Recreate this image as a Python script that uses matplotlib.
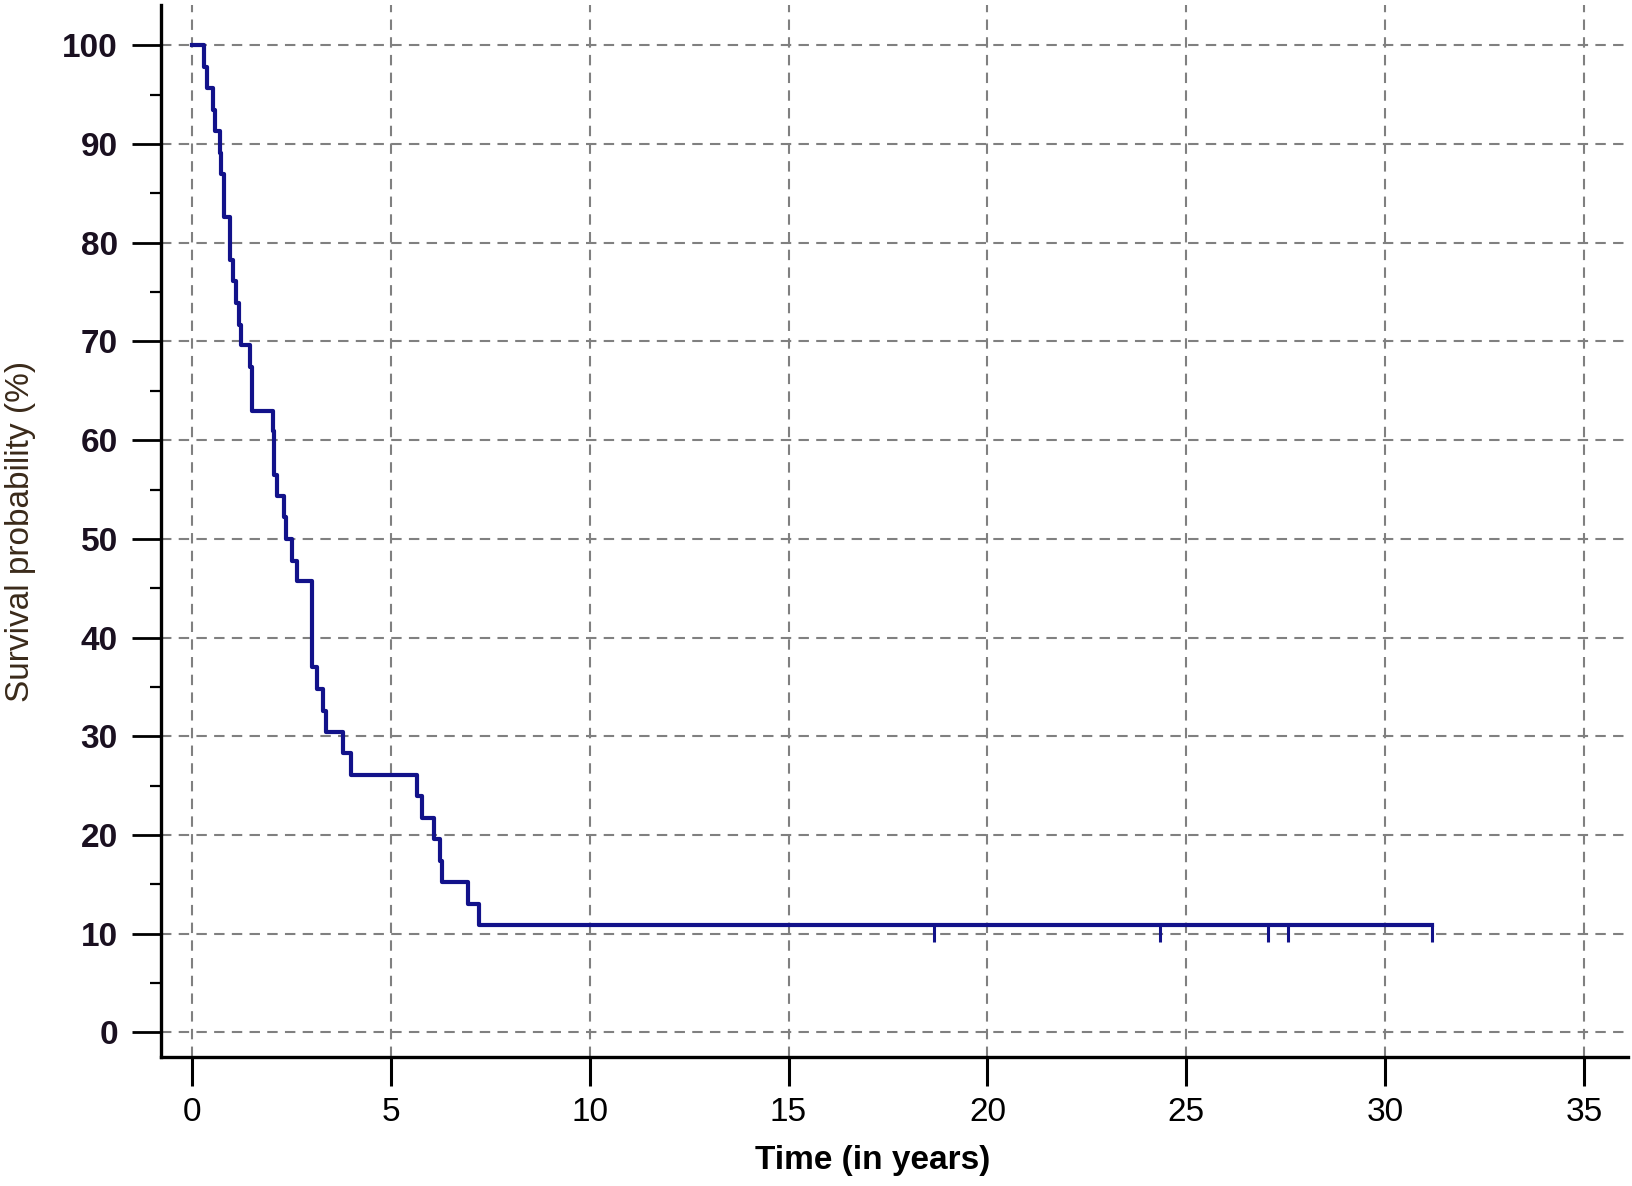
import matplotlib
matplotlib.use("Agg")
import matplotlib.pyplot as plt
from matplotlib.ticker import MultipleLocator

# Kaplan-Meier curve
drop_times = [0.31, 0.38, 0.53, 0.59, 0.70, 0.75, 0.82, 0.96, 1.05, 1.11,
              1.20, 1.25, 1.47, 1.52, 2.04, 2.08, 2.14, 2.31, 2.36, 2.52,
              2.64, 3.02, 3.14, 3.29, 3.38, 3.81, 4.01, 5.66, 5.78, 6.10,
              6.23, 6.28, 6.95, 7.23]
surv_after = [97.8, 95.7, 93.5, 91.3, 89.1, 87.0, 82.6, 78.3, 76.1, 73.9,
              71.7, 69.6, 67.4, 63.0, 60.9, 56.5, 54.3, 52.2, 50.0, 47.8,
              45.7, 37.0, 34.8, 32.6, 30.4, 28.3, 26.1, 23.9, 21.7, 19.6,
              17.4, 15.2, 13.0, 10.9]
censor_times = [18.65, 24.33, 27.05, 27.55, 31.18]
x_ticks = [0, 5, 10, 15, 20, 25, 30, 35]
y_ticks = [0, 10, 20, 30, 40, 50, 60, 70, 80, 90, 100]

line_col = "#12128a"

plt.rcParams['font.family'] = ['Liberation Sans', 'DejaVu Sans']

fig = plt.figure(figsize=(16.33, 11.86), dpi=100)
ax = fig.add_axes([0.0986, 0.1088, 0.8984, 0.887])

t = [0] + drop_times + [censor_times[-1]]
s = [100] + surv_after + [surv_after[-1]]
ax.step(t, s, where='post', color=line_col, lw=3.0, zorder=3)

# censor marks hang below the line
last = surv_after[-1]
ax.vlines(censor_times, last - 1.7, last, color=line_col, lw=2.2, zorder=3)

ax.set_xlim(-0.77, 36.1)
ax.set_ylim(-2.5, 104.1)
ax.set_xticks(x_ticks)
ax.set_yticks(y_ticks)
ax.yaxis.set_minor_locator(MultipleLocator(5))

ax.grid(True, which='major', color='#808080', lw=1.5,
        linestyle=(0, (5, 3.5)), zorder=1)
ax.set_axisbelow(True)

for side in ['top', 'right']:
    ax.spines[side].set_visible(False)
for side in ['left', 'bottom']:
    ax.spines[side].set_linewidth(2.4)
    ax.spines[side].set_color('black')

ax.tick_params(axis='y', which='major', length=21, width=2, pad=10,
               labelsize=24, labelcolor='#1a1020')
ax.tick_params(axis='y', which='minor', length=8, width=1.6)
ax.tick_params(axis='x', which='major', length=21, width=2.2, pad=8,
               labelsize=24, labelcolor='black')
for lbl in ax.get_yticklabels():
    lbl.set_fontweight('bold')

ax.set_ylabel("Survival probability (%)", fontsize=24, color='#3a2a1a')
ax.yaxis.set_label_coords(-0.085, 0.5)
ax.set_xlabel("Time (in years)", fontsize=24, fontweight='bold')
ax.xaxis.set_label_coords(0.485, -0.084)

fig.savefig("out.png", dpi=100)
